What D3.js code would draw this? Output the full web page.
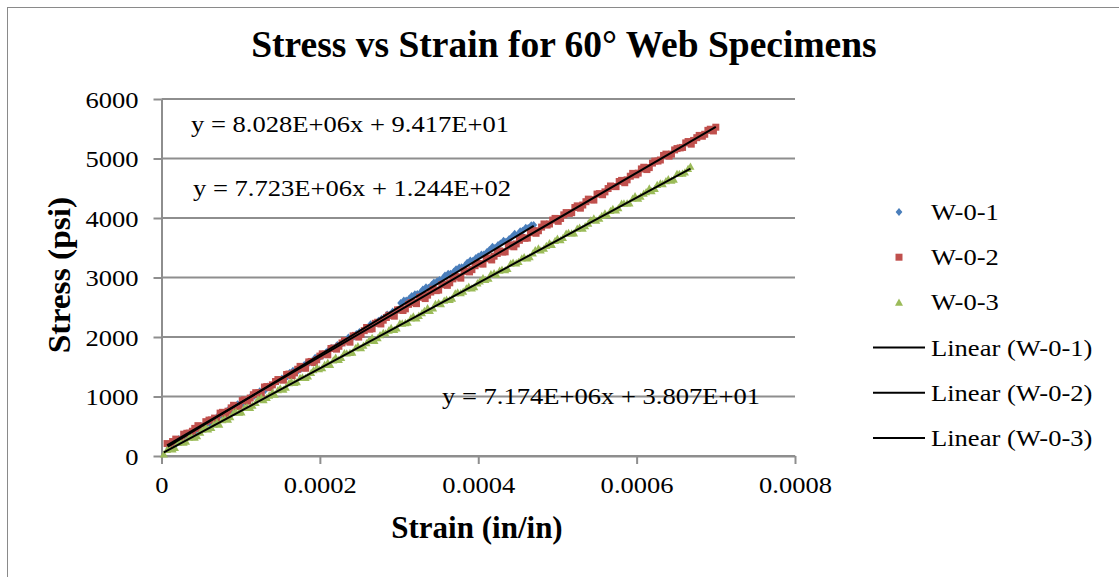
<!DOCTYPE html>
<html>
<head>
<meta charset="utf-8">
<script src="https://cdn.jsdelivr.net/npm/d3@7"></script>
<style>
  body { margin: 0; background: #fff; }
  svg { display: block; }
  text { font-family: "Liberation Serif", "Times New Roman", serif; fill: #000; }
</style>
</head>
<body>
<svg id="chart" width="1119" height="577"></svg>
<script>
// ---- data ----------------------------------------------------------------
const xTicks = [0, 0.0002, 0.0004, 0.0006, 0.0008];
const xTickLabels = ["0", "0.0002", "0.0004", "0.0006", "0.0008"];
const yTicks = [0, 1000, 2000, 3000, 4000, 5000, 6000];

const seriesNames = ["W-0-1", "W-0-2", "W-0-3"];
const seriesColors = ["#4a7ebb", "#c0504d", "#9bbb59"];

// W-0-1 (strain in/in, stress psi)
const w01Strain = [8e-6, 15e-6, 22e-6, 29e-6, 36e-6, 43e-6, 50e-6, 57e-6, 64e-6, 71e-6,
  78e-6, 85e-6, 92e-6, 99e-6, 106e-6, 113e-6, 120e-6, 127e-6, 134e-6, 141e-6,
  148e-6, 155e-6, 162e-6, 169e-6, 176e-6, 183e-6, 190e-6, 197e-6, 204e-6, 211e-6,
  218e-6, 225e-6, 232e-6, 239e-6, 246e-6, 253e-6, 260e-6, 267e-6, 274e-6, 281e-6,
  288e-6, 295e-6, 302e-6, 309e-6, 316e-6, 323e-6, 330e-6, 337e-6, 344e-6, 351e-6,
  358e-6, 365e-6, 372e-6, 379e-6, 386e-6, 393e-6, 400e-6, 407e-6, 414e-6, 421e-6,
  428e-6, 435e-6, 442e-6, 449e-6, 456e-6, 463e-6, 470e-6];
const w01Stress = [178, 204, 286, 307, 388, 414, 505, 537, 578, 669,
  700, 786, 808, 884, 915, 1006, 1037, 1079, 1170, 1201,
  1272, 1303, 1400, 1431, 1467, 1558, 1589, 1661, 1692, 1778,
  1814, 1855, 1941, 1978, 2049, 2080, 2156, 2198, 2274, 2305,
  2376, 2412, 2573, 2615, 2691, 2722, 2798, 2829, 2916, 2957,
  3033, 3064, 3140, 3172, 3248, 3279, 3355, 3386, 3463, 3494,
  3570, 3601, 3677, 3709, 3785, 3831, 3882];
const w01StrainMid = [12e-6, 19e-6, 26e-6, 33e-6, 40e-6, 47e-6, 54e-6, 61e-6, 68e-6, 75e-6,
  82e-6, 89e-6, 96e-6, 103e-6, 110e-6, 117e-6, 124e-6, 131e-6, 138e-6, 145e-6,
  152e-6, 159e-6, 166e-6, 173e-6, 180e-6, 187e-6, 194e-6, 201e-6, 208e-6, 215e-6,
  222e-6, 229e-6, 236e-6, 243e-6, 250e-6, 257e-6, 264e-6, 271e-6, 278e-6, 285e-6,
  292e-6, 299e-6, 306e-6, 313e-6, 320e-6, 327e-6, 334e-6, 341e-6, 348e-6, 355e-6,
  362e-6, 369e-6, 376e-6, 383e-6, 390e-6, 397e-6, 404e-6, 411e-6, 418e-6, 425e-6,
  432e-6, 439e-6, 446e-6, 453e-6, 460e-6, 467e-6];
const w01StressMid = [180, 216, 308, 319, 400, 446, 527, 549, 620, 691,
  742, 778, 870, 881, 962, 1008, 1089, 1111, 1182, 1253,
  1304, 1340, 1432, 1443, 1524, 1570, 1651, 1673, 1744, 1815,
  1866, 1902, 1993, 2005, 2086, 2132, 2213, 2235, 2306, 2377,
  2428, 2464, 2615, 2647, 2718, 2749, 2835, 2876, 2938, 2979,
  3065, 3096, 3167, 3199, 3285, 3326, 3387, 3428, 3515, 3546,
  3617, 3648, 3734, 3776, 3837, 3878];

// W-0-2
const w02Strain = [7e-6, 14e-6, 21e-6, 28e-6, 35e-6, 42e-6, 49e-6, 56e-6, 63e-6, 70e-6,
  77e-6, 84e-6, 91e-6, 98e-6, 105e-6, 112e-6, 119e-6, 126e-6, 133e-6, 140e-6,
  147e-6, 154e-6, 161e-6, 168e-6, 175e-6, 182e-6, 189e-6, 196e-6, 203e-6, 210e-6,
  217e-6, 224e-6, 231e-6, 238e-6, 245e-6, 252e-6, 259e-6, 266e-6, 273e-6, 280e-6,
  287e-6, 294e-6, 301e-6, 308e-6, 315e-6, 322e-6, 329e-6, 336e-6, 343e-6, 350e-6,
  357e-6, 364e-6, 371e-6, 378e-6, 385e-6, 392e-6, 399e-6, 406e-6, 413e-6, 420e-6,
  427e-6, 434e-6, 441e-6, 448e-6, 455e-6, 462e-6, 469e-6, 476e-6, 483e-6, 490e-6,
  497e-6, 504e-6, 511e-6, 518e-6, 525e-6, 532e-6, 539e-6, 546e-6, 553e-6, 560e-6,
  567e-6, 574e-6, 581e-6, 588e-6, 595e-6, 602e-6, 609e-6, 616e-6, 623e-6, 630e-6,
  637e-6, 644e-6, 651e-6, 658e-6, 665e-6, 672e-6, 679e-6, 686e-6, 693e-6, 700e-6];
const w02Stress = [209, 243, 267, 366, 385, 464, 468, 577, 606, 625,
  734, 753, 852, 836, 945, 974, 1064, 1048, 1167, 1196,
  1285, 1274, 1378, 1397, 1506, 1475, 1589, 1618, 1717, 1701,
  1815, 1844, 1939, 1913, 2027, 2046, 2160, 2139, 2248, 2282,
  2366, 2350, 2459, 2473, 2577, 2561, 2680, 2704, 2803, 2788,
  2887, 2911, 3015, 2989, 3108, 3132, 3236, 3225, 3329, 3358,
  3447, 3431, 3550, 3564, 3673, 3663, 3787, 3786, 3900, 3899,
  3993, 3992, 4091, 4090, 4204, 4218, 4317, 4301, 4410, 4439,
  4538, 4527, 4632, 4641, 4750, 4754, 4853, 4847, 4956, 4975,
  5074, 5073, 5167, 5186, 5285, 5304, 5388, 5407, 5492, 5526];
const w02StrainMid = [11e-6, 18e-6, 25e-6, 32e-6, 39e-6, 46e-6, 53e-6, 60e-6, 67e-6, 74e-6,
  81e-6, 88e-6, 95e-6, 102e-6, 109e-6, 116e-6, 123e-6, 130e-6, 137e-6, 144e-6,
  151e-6, 158e-6, 165e-6, 172e-6, 179e-6, 186e-6, 193e-6, 200e-6, 207e-6, 214e-6,
  221e-6, 228e-6, 235e-6, 242e-6, 249e-6, 256e-6, 263e-6, 270e-6, 277e-6, 284e-6,
  291e-6, 298e-6, 305e-6, 312e-6, 319e-6, 326e-6, 333e-6, 340e-6, 347e-6, 354e-6,
  361e-6, 368e-6, 375e-6, 382e-6, 389e-6, 396e-6, 403e-6, 410e-6, 417e-6, 424e-6,
  431e-6, 438e-6, 445e-6, 452e-6, 459e-6, 466e-6, 473e-6, 480e-6, 487e-6, 494e-6,
  501e-6, 508e-6, 515e-6, 522e-6, 529e-6, 536e-6, 543e-6, 550e-6, 557e-6, 564e-6,
  571e-6, 578e-6, 585e-6, 592e-6, 599e-6, 606e-6, 613e-6, 620e-6, 627e-6, 634e-6,
  641e-6, 648e-6, 655e-6, 662e-6, 669e-6, 676e-6, 683e-6, 690e-6, 697e-6];
const w02StressMid = [185, 284, 273, 382, 416, 510, 499, 603, 637, 721,
  700, 809, 833, 932, 921, 1030, 1065, 1159, 1148, 1252,
  1286, 1370, 1349, 1458, 1482, 1581, 1570, 1679, 1713, 1807,
  1796, 1900, 1935, 2019, 1998, 2107, 2131, 2230, 2219, 2328,
  2362, 2456, 2445, 2549, 2583, 2667, 2646, 2755, 2779, 2879,
  2868, 2977, 3011, 3105, 3094, 3198, 3232, 3316, 3295, 3404,
  3428, 3527, 3516, 3625, 3659, 3754, 3743, 3847, 3881, 3965,
  3944, 4053, 4077, 4176, 4165, 4274, 4308, 4402, 4391, 4495,
  4529, 4613, 4593, 4702, 4726, 4825, 4814, 4923, 4957, 5051,
  5040, 5144, 5178, 5262, 5241, 5350, 5374, 5473, 5463];

// W-0-3
const w03Strain = [3e-6, 10e-6, 17e-6, 24e-6, 31e-6, 38e-6, 45e-6, 52e-6, 59e-6, 66e-6,
  73e-6, 80e-6, 87e-6, 94e-6, 101e-6, 108e-6, 115e-6, 122e-6, 129e-6, 136e-6,
  143e-6, 150e-6, 157e-6, 164e-6, 171e-6, 178e-6, 185e-6, 192e-6, 199e-6, 206e-6,
  213e-6, 220e-6, 227e-6, 234e-6, 241e-6, 248e-6, 255e-6, 262e-6, 269e-6, 276e-6,
  283e-6, 290e-6, 297e-6, 304e-6, 311e-6, 318e-6, 325e-6, 332e-6, 339e-6, 346e-6,
  353e-6, 360e-6, 367e-6, 374e-6, 381e-6, 388e-6, 395e-6, 402e-6, 409e-6, 416e-6,
  423e-6, 430e-6, 437e-6, 444e-6, 451e-6, 458e-6, 465e-6, 472e-6, 479e-6, 486e-6,
  493e-6, 500e-6, 507e-6, 514e-6, 521e-6, 528e-6, 535e-6, 542e-6, 549e-6, 556e-6,
  563e-6, 570e-6, 577e-6, 584e-6, 591e-6, 598e-6, 605e-6, 612e-6, 619e-6, 626e-6,
  633e-6, 640e-6, 647e-6, 654e-6, 661e-6, 668e-6];
const w03Stress = [30, 125, 140, 235, 246, 321, 336, 446, 451, 532,
  532, 627, 657, 742, 738, 823, 848, 953, 944, 1019,
  1034, 1139, 1154, 1250, 1245, 1325, 1340, 1446, 1461, 1536,
  1536, 1656, 1652, 1727, 1742, 1847, 1857, 1943, 1938, 2033,
  2063, 2154, 2149, 2229, 2244, 2349, 2360, 2440, 2440, 2560,
  2556, 2631, 2646, 2751, 2766, 2847, 2842, 2937, 2962, 3058,
  3053, 3133, 3148, 3253, 3264, 3344, 3344, 3464, 3459, 3535,
  3550, 3655, 3670, 3751, 3746, 3841, 3866, 3961, 3957, 4037,
  4052, 4157, 4168, 4248, 4248, 4368, 4363, 4439, 4454, 4559,
  4574, 4654, 4650, 4745, 4770, 4865];
const w03StrainMid = [7e-6, 14e-6, 21e-6, 28e-6, 35e-6, 42e-6, 49e-6, 56e-6, 63e-6, 70e-6,
  77e-6, 84e-6, 91e-6, 98e-6, 105e-6, 112e-6, 119e-6, 126e-6, 133e-6, 140e-6,
  147e-6, 154e-6, 161e-6, 168e-6, 175e-6, 182e-6, 189e-6, 196e-6, 203e-6, 210e-6,
  217e-6, 224e-6, 231e-6, 238e-6, 245e-6, 252e-6, 259e-6, 266e-6, 273e-6, 280e-6,
  287e-6, 294e-6, 301e-6, 308e-6, 315e-6, 322e-6, 329e-6, 336e-6, 343e-6, 350e-6,
  357e-6, 364e-6, 371e-6, 378e-6, 385e-6, 392e-6, 399e-6, 406e-6, 413e-6, 420e-6,
  427e-6, 434e-6, 441e-6, 448e-6, 455e-6, 462e-6, 469e-6, 476e-6, 483e-6, 490e-6,
  497e-6, 504e-6, 511e-6, 518e-6, 525e-6, 532e-6, 539e-6, 546e-6, 553e-6, 560e-6,
  567e-6, 574e-6, 581e-6, 588e-6, 595e-6, 602e-6, 609e-6, 616e-6, 623e-6, 630e-6,
  637e-6, 644e-6, 651e-6, 658e-6, 665e-6];
const w03StressMid = [104, 114, 224, 229, 310, 310, 395, 480, 475, 566,
  606, 616, 726, 731, 812, 812, 897, 982, 978, 1068,
  1108, 1118, 1228, 1234, 1314, 1314, 1399, 1485, 1480, 1570,
  1610, 1620, 1731, 1736, 1816, 1816, 1901, 1987, 1982, 2072,
  2112, 2123, 2233, 2238, 2318, 2318, 2404, 2489, 2484, 2574,
  2615, 2625, 2735, 2740, 2820, 2821, 2906, 2991, 2986, 3077,
  3117, 3127, 3237, 3242, 3323, 3323, 3408, 3493, 3488, 3579,
  3619, 3629, 3739, 3745, 3825, 3825, 3910, 3995, 3991, 4081,
  4121, 4131, 4242, 4247, 4327, 4327, 4412, 4498, 4493, 4583,
  4623, 4633, 4744, 4749, 4829];

// linear trendlines (least-squares fits)
const fitSlopes = [8.028e6, 7.723e6, 7.174e6];
const fitIntercepts = [9.417e1, 1.244e2, 3.807e1];
const fitLabels = ["y = 8.028E+06x + 9.417E+01", "y = 7.723E+06x + 1.244E+02", "y = 7.174E+06x + 3.807E+01"];

// ---- layout --------------------------------------------------------------
const W = 1119, H = 577;
const plot = { left: 161.5, right: 795, top: 99, bottom: 456 };
const GRID = "#8e8e8e";
const SX = 1.155;         // horizontal stretch of the body text
const BODY = 23;          // body font size

const svg = d3.select("#chart");
svg.append("rect").attr("width", W).attr("height", H).attr("fill", "#fff");
svg.append("rect")
  .attr("x", 7.5).attr("y", 7.5).attr("width", 1300).attr("height", 800)
  .attr("fill", "none").attr("stroke", "#8a8a8a").attr("stroke-width", 1);

const x = d3.scaleLinear().domain([0, 0.0008]).range([plot.left, plot.right]);
const y = d3.scaleLinear().domain([0, 6000]).range([plot.bottom, plot.top]);

// horizontal gridlines
svg.append("g").selectAll("line").data(yTicks).join("line")
  .attr("x1", plot.left).attr("x2", plot.right)
  .attr("y1", d => y(d)).attr("y2", d => y(d))
  .attr("stroke", GRID).attr("stroke-width", 2);

// axes
const yAxis = svg.append("g")
  .attr("transform", `translate(${plot.left},0)`)
  .call(d3.axisLeft(y).tickValues(yTicks).tickSize(8).tickSizeOuter(0).tickFormat(d3.format("d")));
const xAxis = svg.append("g")
  .attr("transform", `translate(0,${plot.bottom})`)
  .call(d3.axisBottom(x).tickValues(xTicks).tickSize(8).tickSizeOuter(0)
    .tickFormat((d, i) => xTickLabels[i]));

[yAxis, xAxis].forEach(g => {
  g.attr("font-family", null);
  g.select(".domain").attr("stroke", GRID).attr("stroke-width", 2);
  g.selectAll(".tick line").attr("stroke", GRID).attr("stroke-width", 2);
  g.selectAll(".tick text").attr("font-size", BODY).attr("fill", "#000")
    .attr("x", null).attr("y", null).attr("dy", null);
});
yAxis.selectAll(".tick text")
  .attr("text-anchor", "end")
  .attr("transform", `translate(-23,8) scale(${SX},1)`);
xAxis.selectAll(".tick text")
  .attr("text-anchor", "middle")
  .attr("transform", `translate(0,37) scale(${SX},1)`);

// scatter markers
const markerPaths = [
  "M0,-4L3.4,0L0,4L-3.4,0Z",
  "M-3.5,-3.5H3.5V3.5H-3.5Z",
  "M0,-4L4,3.3L-4,3.3Z"
];
const strains = [w01Strain.concat(w01StrainMid), w02Strain.concat(w02StrainMid), w03Strain.concat(w03StrainMid)];
const stresses = [w01Stress.concat(w01StressMid), w02Stress.concat(w02StressMid), w03Stress.concat(w03StressMid)];

strains.forEach((xs, s) => {
  const pts = xs.map((v, i) => [v, stresses[s][i]]).sort((a, b) => a[0] - b[0]);
  svg.append("g").selectAll("path").data(pts).join("path")
    .attr("d", markerPaths[s])
    .attr("transform", d => `translate(${x(d[0])},${y(d[1])})`)
    .attr("fill", seriesColors[s]);
});

// trendlines over each series' strain range
const line = d3.line().x(d => x(d[0])).y(d => y(d[1]));
strains.forEach((xs, s) => {
  const ext = d3.extent(xs);
  const pts = ext.map(v => [v, fitSlopes[s] * v + fitIntercepts[s]]);
  svg.append("path").attr("d", line(pts))
    .attr("fill", "none").attr("stroke", "#000").attr("stroke-width", 2);
});

// trendline equations
const eqPos = [[191, 132], [193, 196], [442, 404]];
fitLabels.forEach((t, i) => {
  svg.append("text")
    .attr("transform", `translate(${eqPos[i][0]},${eqPos[i][1]}) scale(${SX},1)`)
    .attr("font-size", BODY).text(t);
});

// title and axis titles
svg.append("text").attr("x", 564).attr("y", 57)
  .attr("text-anchor", "middle").attr("font-size", 37.5).attr("font-weight", "bold")
  .text("Stress vs Strain for 60° Web Specimens");
svg.append("text").attr("x", 477).attr("y", 538)
  .attr("text-anchor", "middle").attr("font-size", 31).attr("font-weight", "bold")
  .text("Strain (in/in)");
svg.append("text")
  .attr("transform", "translate(70,275) rotate(-90) scale(1.08,1)")
  .attr("text-anchor", "middle").attr("font-size", 31).attr("font-weight", "bold")
  .text("Stress (psi)");

// legend
const legendY = d3.range(6).map(i => 212 + 45.2 * i);
const legend = svg.append("g");
seriesNames.forEach((n, i) => {
  legend.append("path").attr("d", markerPaths[i])
    .attr("transform", `translate(899,${legendY[i]})`).attr("fill", seriesColors[i]);
  legend.append("text")
    .attr("transform", `translate(931,${legendY[i] + 8}) scale(${SX},1)`)
    .attr("font-size", BODY).text(n);
});
seriesNames.forEach((n, i) => {
  const ly = legendY[i + 3];
  legend.append("line").attr("x1", 873).attr("x2", 925).attr("y1", ly).attr("y2", ly)
    .attr("stroke", "#000").attr("stroke-width", 2);
  legend.append("text")
    .attr("transform", `translate(931,${ly + 8}) scale(${SX},1)`)
    .attr("font-size", BODY).text(`Linear (${n})`);
});
</script>
</body>
</html>
